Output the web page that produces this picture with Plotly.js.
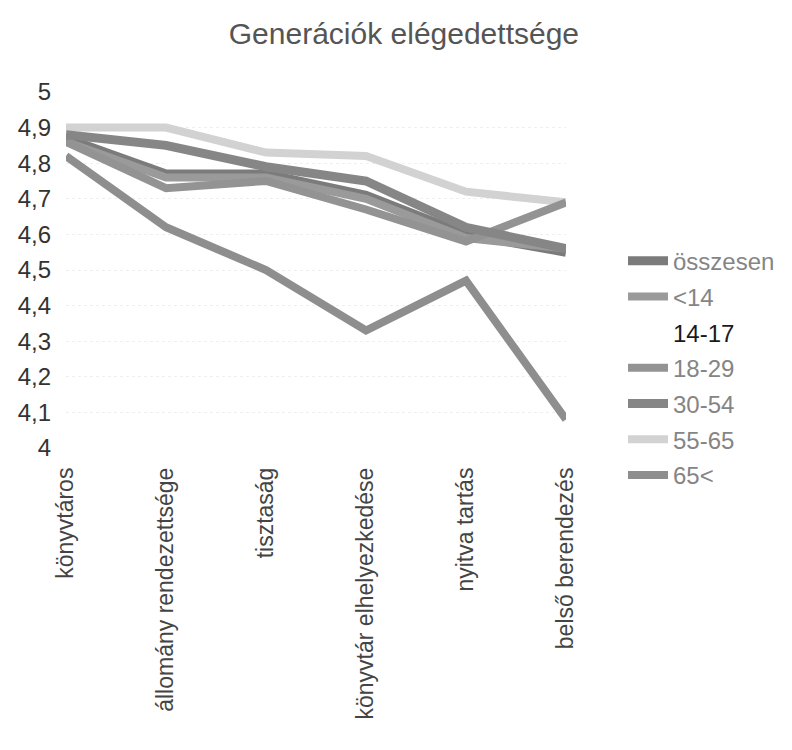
<!DOCTYPE html>
<html>
<head>
<meta charset="utf-8">
<script src="https://cdn.plot.ly/plotly-3.0.1.min.js"></script>
<style>html,body{margin:0;padding:0;background:#fff;}#chart{width:792px;height:750px;}</style>
</head>
<body>
<div id="chart"></div>
<script>
const categories = ["könyvtáros", "állomány rendezettsége", "tisztaság", "könyvtár elhelyezkedése", "nyitva tartás", "belső berendezés"];
const seriesNames = ["összesen", "<14", "14-17", "18-29", "30-54", "55-65", "65<"];
const osszesen = [4.87, 4.77, 4.77, 4.71, 4.60, 4.55];
const under14 = [4.86, 4.76, 4.76, 4.70, 4.59, 4.56];
const age14_17 = [4.87, 4.81, 4.80, 4.73, 4.62, 4.62];
const age18_29 = [4.86, 4.73, 4.75, 4.67, 4.58, 4.69];
const age30_54 = [4.88, 4.85, 4.79, 4.75, 4.62, 4.56];
const age55_65 = [4.90, 4.90, 4.83, 4.82, 4.72, 4.69];
const over65 = [4.82, 4.62, 4.50, 4.33, 4.47, 4.08];
const yTickVals = [4, 4.1, 4.2, 4.3, 4.4, 4.5, 4.6, 4.7, 4.8, 4.9, 5];
const yTickText = ["4", "4,1", "4,2", "4,3", "4,4", "4,5", "4,6", "4,7", "4,8", "4,9", "5"];

const greyText = '#858585';
function mk(name, y, color, width, rank, label) {
  return {x: categories, y: y, type: 'scatter', mode: 'lines', name: label || name,
          legendgroup: 'g' + rank, legendrank: rank,
          line: {color: color, width: width}, hoverinfo: 'skip'};
}
const traces = [
  mk('összesen', osszesen, '#7b7b7b', 9, 1),
  mk('<14', under14, '#9a9a9a', 8, 2),
  mk('14-17', age14_17, '#ffffff', 8, 3, '<span style="color:#1a1a1a">14-17</span>'),
  mk('18-29', age18_29, '#939393', 8, 4),
  mk('30-54', age30_54, '#868686', 9, 5),
  mk('55-65', age55_65, '#d2d2d2', 8, 6),
  mk('65<', over65, '#8e8e8e', 8, 7)
];
// draw 14-17 beneath others
const order = [2, 5, 0, 1, 3, 4, 6];
const data = order.map(i => traces[i]);

const layout = {
  width: 792, height: 750,
  paper_bgcolor: '#ffffff', plot_bgcolor: '#ffffff',
  font: {family: 'Liberation Sans, Arial, sans-serif', color: '#444'},
  title: {text: 'Generációk elégedettsége', x: 0.51, xanchor: 'center', y: 0.956, yanchor: 'middle',
          font: {size: 30, color: '#555'}},
  margin: {l: 66, r: 216, t: 92, b: 302},
  xaxis: {type: 'category', range: [0, 5], tickangle: -90, showgrid: false, zeroline: false,
          showline: false, ticks: '', tickfont: {size: 23, color: '#444'}, ticklabelstandoff: 14,
          automargin: false},
  yaxis: {range: [4, 5], tickvals: yTickVals, ticktext: yTickText, showgrid: true,
          gridcolor: '#efefef', griddash: 'dot', gridwidth: 1, zeroline: false, showline: false,
          ticks: '', tickfont: {size: 24, color: '#333'}, ticklabelstandoff: 14, automargin: false},
  showlegend: true,
  legend: {x: 1.114, xanchor: 'left', y: 0.588, yanchor: 'top', traceorder: 'grouped',
           font: {size: 24, color: greyText}, itemwidth: 40, tracegroupgap: 1.5,
           bgcolor: 'rgba(0,0,0,0)'}
};

Plotly.newPlot('chart', data, layout, {displayModeBar: false, staticPlot: true});
</script>
</body>
</html>
